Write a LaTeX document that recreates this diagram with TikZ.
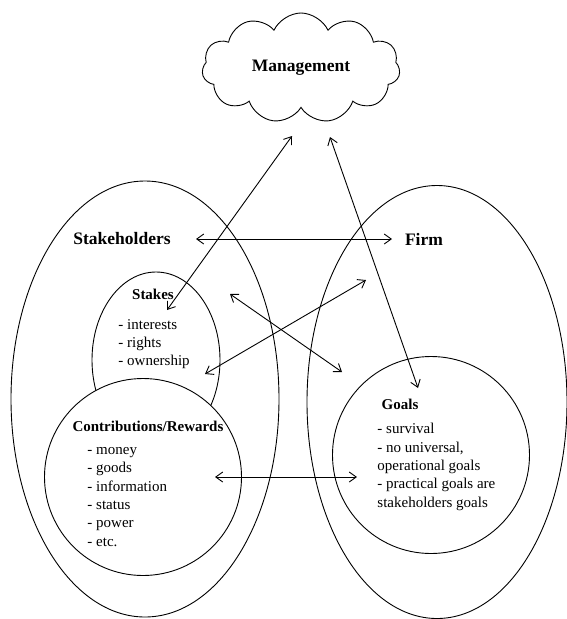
\documentclass[tikz,border=0pt]{standalone}
\usepackage{fontspec}
\setmainfont{Liberation Serif}
\usetikzlibrary{shapes.geometric,shapes.symbols,arrows.meta}

\begin{document}
\begin{tikzpicture}[x=1pt,y=-1pt,line width=0.9pt]

    \tikzstyle{every node}=[font=\fontsize{15}{18.3}\selectfont]
    \tikzstyle{big}=[font=\fontsize{17.5}{20}\selectfont\bfseries]
    \tikzstyle{head}=[font=\fontsize{15}{18}\selectfont\bfseries]
    \tikzstyle{items}=[anchor=west,align=left,inner sep=0pt]
    \tikzstyle{link}=[{Straight Barb[length=7pt,width=10pt]}-{Straight Barb[length=7pt,width=10pt]}]

    \useasboundingbox (0,0) rectangle (567,619);

    % outer sets
    \node[draw,ellipse,inner sep=0pt,minimum width=268pt,minimum height=436pt] (stakeholders) at (145,399) {};
    \node[draw,ellipse,inner sep=0pt,minimum width=260pt,minimum height=433pt] (firm) at (437,402) {};

    % inner sets
    \node[draw,ellipse,inner sep=0pt,minimum width=128pt,minimum height=176pt] (stakes) at (156,360) {};
    \node[draw,circle,fill=white,inner sep=0pt,minimum size=197pt] (contrib) at (143,477) {};
    \node[draw,circle,inner sep=0pt,minimum size=197pt] (goals) at (431,455) {};

    % management
    \node[draw,cloud,cloud puffs=11,cloud puff arc=130,aspect=1.8,inner sep=0pt,minimum width=198pt,minimum height=110pt,big] (mgmt) at (301,68) {Management};

    % labels
    \node[big] (stakeholderstxt) at (122,239) {Stakeholders};
    \node[big] (firmtxt) at (424,239) {Firm};
    \node[head] (stakestxt) at (153,294) {Stakes};
    \node[head] (contribtxt) at (148,426) {Contributions/Rewards};
    \node[head] (goalstxt) at (400,404) {Goals};

    \node[items] (stakeslist) at (118,344) {- interests\\- rights\\- ownership};
    \node[items] (contriblist) at (87,497) {- money\\- goods\\- information\\- status\\- power\\- etc.};
    \node[items] (goalslist) at (377,467) {- survival\\- no universal,\\operational goals\\- practical goals are\\stakeholders goals};

    % arrow ends
    \coordinate (sh) at (196,239);
    \coordinate (fi) at (392,239);
    \coordinate (m1) at (292,136);
    \coordinate (m2) at (330,137);
    \coordinate (st) at (167,310);
    \coordinate (go) at (418,388);
    \coordinate (x1) at (230,294);
    \coordinate (x2) at (342,372);
    \coordinate (y1) at (205,374);
    \coordinate (y2) at (366,280);
    \coordinate (cr) at (215,477);
    \coordinate (gl) at (357,477);

    \draw[link] (sh) -- (fi);
    \draw[link] (m1) -- (st);
    \draw[link] (m2) -- (go);
    \draw[link] (x1) -- (x2);
    \draw[link] (y1) -- (y2);
    \draw[link] (cr) -- (gl);
\end{tikzpicture}
\end{document}
